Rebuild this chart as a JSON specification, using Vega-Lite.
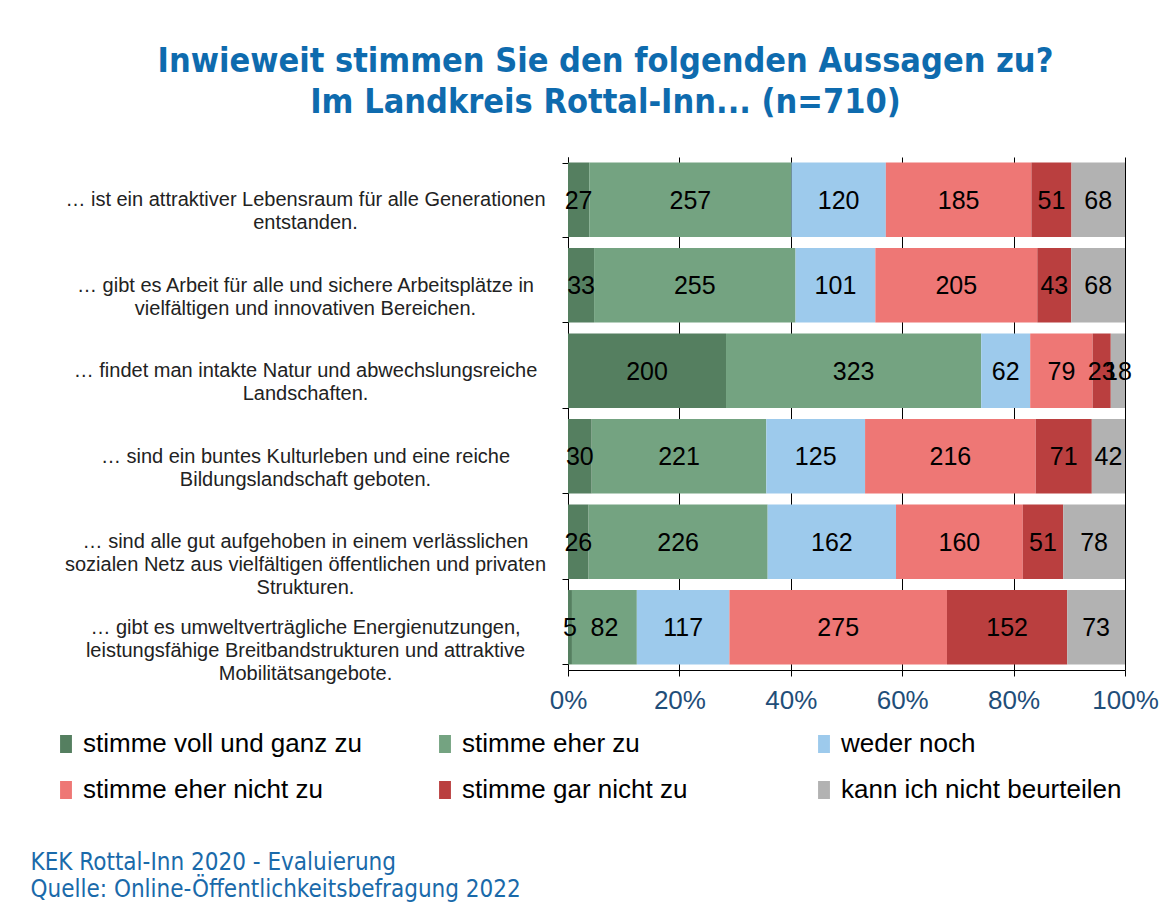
{
  "$schema": "https://vega.github.io/schema/vega-lite/v6.json",
  "width": 557,
  "height": 513,
  "autosize": {"type": "none"},
  "padding": {"left": 568, "top": 157, "right": 44, "bottom": 241},
  "background": "white",
  "title": {
    "text": ["Inwieweit stimmen Sie den folgenden Aussagen zu?", "Im Landkreis Rottal-Inn... (n=710)"],
    "anchor": "middle",
    "frame": "group",
    "dx": -241,
    "offset": 0,
    "baseline": "alphabetic",
    "font": "DejaVu Sans Condensed, Liberation Sans Narrow, Roboto, sans-serif",
    "fontWeight": "bold",
    "fontSize": 34,
    "lineHeight": 41,
    "color": "#0E6BAE"
  },
  "data": {
    "values": [
      {"statement": "… ist ein attraktiver Lebensraum für alle Generationen|entstanden.", "answer": "stimme voll und ganz zu", "count": 27},
      {"statement": "… ist ein attraktiver Lebensraum für alle Generationen|entstanden.", "answer": "stimme eher zu", "count": 257},
      {"statement": "… ist ein attraktiver Lebensraum für alle Generationen|entstanden.", "answer": "weder noch", "count": 120},
      {"statement": "… ist ein attraktiver Lebensraum für alle Generationen|entstanden.", "answer": "stimme eher nicht zu", "count": 185},
      {"statement": "… ist ein attraktiver Lebensraum für alle Generationen|entstanden.", "answer": "stimme gar nicht zu", "count": 51},
      {"statement": "… ist ein attraktiver Lebensraum für alle Generationen|entstanden.", "answer": "kann ich nicht beurteilen", "count": 68},
      {"statement": "… gibt es Arbeit für alle und sichere Arbeitsplätze in|vielfältigen und innovativen Bereichen.", "answer": "stimme voll und ganz zu", "count": 33},
      {"statement": "… gibt es Arbeit für alle und sichere Arbeitsplätze in|vielfältigen und innovativen Bereichen.", "answer": "stimme eher zu", "count": 255},
      {"statement": "… gibt es Arbeit für alle und sichere Arbeitsplätze in|vielfältigen und innovativen Bereichen.", "answer": "weder noch", "count": 101},
      {"statement": "… gibt es Arbeit für alle und sichere Arbeitsplätze in|vielfältigen und innovativen Bereichen.", "answer": "stimme eher nicht zu", "count": 205},
      {"statement": "… gibt es Arbeit für alle und sichere Arbeitsplätze in|vielfältigen und innovativen Bereichen.", "answer": "stimme gar nicht zu", "count": 43},
      {"statement": "… gibt es Arbeit für alle und sichere Arbeitsplätze in|vielfältigen und innovativen Bereichen.", "answer": "kann ich nicht beurteilen", "count": 68},
      {"statement": "… findet man intakte Natur und abwechslungsreiche|Landschaften.", "answer": "stimme voll und ganz zu", "count": 200},
      {"statement": "… findet man intakte Natur und abwechslungsreiche|Landschaften.", "answer": "stimme eher zu", "count": 323},
      {"statement": "… findet man intakte Natur und abwechslungsreiche|Landschaften.", "answer": "weder noch", "count": 62},
      {"statement": "… findet man intakte Natur und abwechslungsreiche|Landschaften.", "answer": "stimme eher nicht zu", "count": 79},
      {"statement": "… findet man intakte Natur und abwechslungsreiche|Landschaften.", "answer": "stimme gar nicht zu", "count": 23},
      {"statement": "… findet man intakte Natur und abwechslungsreiche|Landschaften.", "answer": "kann ich nicht beurteilen", "count": 18},
      {"statement": "… sind ein buntes Kulturleben und eine reiche|Bildungslandschaft geboten.", "answer": "stimme voll und ganz zu", "count": 30},
      {"statement": "… sind ein buntes Kulturleben und eine reiche|Bildungslandschaft geboten.", "answer": "stimme eher zu", "count": 221},
      {"statement": "… sind ein buntes Kulturleben und eine reiche|Bildungslandschaft geboten.", "answer": "weder noch", "count": 125},
      {"statement": "… sind ein buntes Kulturleben und eine reiche|Bildungslandschaft geboten.", "answer": "stimme eher nicht zu", "count": 216},
      {"statement": "… sind ein buntes Kulturleben und eine reiche|Bildungslandschaft geboten.", "answer": "stimme gar nicht zu", "count": 71},
      {"statement": "… sind ein buntes Kulturleben und eine reiche|Bildungslandschaft geboten.", "answer": "kann ich nicht beurteilen", "count": 42},
      {"statement": "… sind alle gut aufgehoben in einem verlässlichen|sozialen Netz aus vielfältigen öffentlichen und privaten|Strukturen.", "answer": "stimme voll und ganz zu", "count": 26},
      {"statement": "… sind alle gut aufgehoben in einem verlässlichen|sozialen Netz aus vielfältigen öffentlichen und privaten|Strukturen.", "answer": "stimme eher zu", "count": 226},
      {"statement": "… sind alle gut aufgehoben in einem verlässlichen|sozialen Netz aus vielfältigen öffentlichen und privaten|Strukturen.", "answer": "weder noch", "count": 162},
      {"statement": "… sind alle gut aufgehoben in einem verlässlichen|sozialen Netz aus vielfältigen öffentlichen und privaten|Strukturen.", "answer": "stimme eher nicht zu", "count": 160},
      {"statement": "… sind alle gut aufgehoben in einem verlässlichen|sozialen Netz aus vielfältigen öffentlichen und privaten|Strukturen.", "answer": "stimme gar nicht zu", "count": 51},
      {"statement": "… sind alle gut aufgehoben in einem verlässlichen|sozialen Netz aus vielfältigen öffentlichen und privaten|Strukturen.", "answer": "kann ich nicht beurteilen", "count": 78},
      {"statement": "… gibt es umweltverträgliche Energienutzungen,|leistungsfähige Breitbandstrukturen und attraktive|Mobilitätsangebote.", "answer": "stimme voll und ganz zu", "count": 5},
      {"statement": "… gibt es umweltverträgliche Energienutzungen,|leistungsfähige Breitbandstrukturen und attraktive|Mobilitätsangebote.", "answer": "stimme eher zu", "count": 82},
      {"statement": "… gibt es umweltverträgliche Energienutzungen,|leistungsfähige Breitbandstrukturen und attraktive|Mobilitätsangebote.", "answer": "weder noch", "count": 117},
      {"statement": "… gibt es umweltverträgliche Energienutzungen,|leistungsfähige Breitbandstrukturen und attraktive|Mobilitätsangebote.", "answer": "stimme eher nicht zu", "count": 275},
      {"statement": "… gibt es umweltverträgliche Energienutzungen,|leistungsfähige Breitbandstrukturen und attraktive|Mobilitätsangebote.", "answer": "stimme gar nicht zu", "count": 152},
      {"statement": "… gibt es umweltverträgliche Energienutzungen,|leistungsfähige Breitbandstrukturen und attraktive|Mobilitätsangebote.", "answer": "kann ich nicht beurteilen", "count": 73}
    ]
  },
  "transform": [
    {"calculate": "indexof(['stimme voll und ganz zu','stimme eher zu','weder noch','stimme eher nicht zu','stimme gar nicht zu','kann ich nicht beurteilen'], datum.answer)", "as": "ord"},
    {"stack": "count", "groupby": ["statement"], "sort": [{"field": "ord", "order": "ascending"}], "offset": "normalize", "as": ["x0", "x1"]},
    {"calculate": "(datum.x0 + datum.x1) / 2", "as": "xm"}
  ],
  "encoding": {
    "y": {
      "field": "statement",
      "type": "nominal",
      "sort": [
        "… ist ein attraktiver Lebensraum für alle Generationen|entstanden.",
        "… gibt es Arbeit für alle und sichere Arbeitsplätze in|vielfältigen und innovativen Bereichen.",
        "… findet man intakte Natur und abwechslungsreiche|Landschaften.",
        "… sind ein buntes Kulturleben und eine reiche|Bildungslandschaft geboten.",
        "… sind alle gut aufgehoben in einem verlässlichen|sozialen Netz aus vielfältigen öffentlichen und privaten|Strukturen.",
        "… gibt es umweltverträgliche Energienutzungen,|leistungsfähige Breitbandstrukturen und attraktive|Mobilitätsangebote."
      ],
      "scale": {"paddingInner": 0.13, "paddingOuter": 0.065},
      "axis": {
        "title": null,
        "labelExpr": "split(datum.label, '|')",
        "labelAlign": "center",
        "labelBaseline": "middle",
        "labelPadding": 257,
        "labelFont": "Liberation Sans, Arial, sans-serif",
        "labelFontSize": 20,
        "labelLineHeight": 23,
        "labelColor": "#222222",
        "labelLimit": 700,
        "tickBand": "extent",
        "tickSize": 6,
        "tickColor": "black",
        "domainColor": "black",
        "grid": false
      }
    }
  },
  "layer": [
    {
      "mark": {"type": "bar"},
      "encoding": {
        "x": {
          "field": "x0",
          "type": "quantitative",
          "scale": {"domain": [0, 1], "nice": false},
          "axis": {
            "values": [0, 0.2, 0.4, 0.6, 0.8, 1],
            "format": "%",
            "grid": true,
            "gridColor": "black",
            "gridOpacity": 1,
            "domainColor": "black",
            "tickColor": "black",
            "tickSize": 6,
            "labelFont": "Liberation Sans, Arial, sans-serif",
            "labelFontSize": 26,
            "labelColor": "#1F4E79",
            "labelPadding": 11,
            "labelFlush": false,
            "title": ["KEK Rottal-Inn 2020 - Evaluierung", "Quelle: Online-Öffentlichkeitsbefragung 2022"],
            "titleX": -538,
            "titleY": 180,
            "titleAlign": "left",
            "titleAnchor": "start",
            "titleBaseline": "top",
            "titleFont": "DejaVu Sans Condensed, Liberation Sans Narrow, Roboto, sans-serif",
            "titleFontSize": 24,
            "titleFontWeight": "normal",
            "titleColor": "#1A6AAA",
            "titleLineHeight": 27
          }
        },
        "x2": {"field": "x1"},
        "color": {
          "field": "answer",
          "type": "nominal",
          "scale": {
            "domain": ["stimme voll und ganz zu", "stimme eher zu", "weder noch", "stimme eher nicht zu", "stimme gar nicht zu", "kann ich nicht beurteilen"],
            "range": ["#557F60", "#74A381", "#9DCAEC", "#EE7775", "#BA3F3F", "#B2B2B2"]
          },
          "legend": {
            "orient": "none",
            "legendX": -515,
            "legendY": 574,
            "direction": "horizontal",
            "columns": 3,
            "title": null,
            "symbolType": "M-0.66,-1H0.66V1H-0.66Z",
            "symbolSize": 324,
            "symbolStrokeWidth": 0,
            "symbolOpacity": 1,
            "labelFont": "Liberation Sans, Arial, sans-serif",
            "labelFontSize": 26,
            "labelColor": "black",
            "labelOffset": 4,
            "labelLimit": 400,
            "columnPadding": 68,
            "rowPadding": 20,
            "gridAlign": "all"
          }
        }
      }
    },
    {
      "mark": {"type": "text", "font": "Liberation Sans, Arial, sans-serif", "fontSize": 25, "color": "black", "baseline": "middle", "align": "center", "dy": 1},
      "encoding": {
        "x": {"field": "xm", "type": "quantitative"},
        "text": {"field": "count", "type": "quantitative"}
      }
    }
  ],
  "config": {"view": {"stroke": null}}
}
